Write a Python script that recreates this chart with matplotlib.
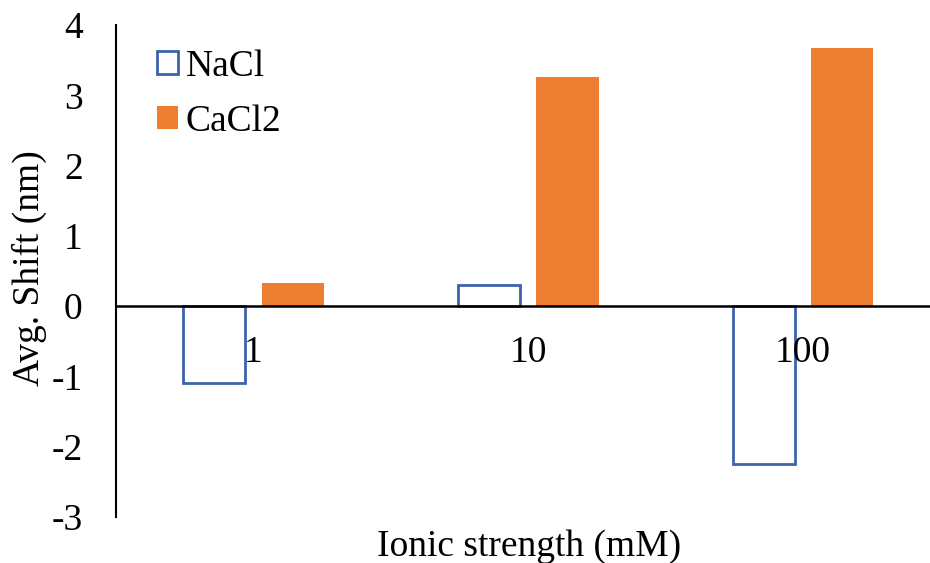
import matplotlib
matplotlib.use('Agg')
import matplotlib.pyplot as plt
import numpy as np

plt.rcParams['font.family'] = ['Liberation Serif', 'DejaVu Serif']
plt.rcParams['axes.unicode_minus'] = False

categories = ['1', '10', '100']
nacl = [-1.10, 0.30, -2.25]
cacl2 = [0.33, 3.26, 3.67]

W, H = 930, 563
FS = 27
fig = plt.figure(figsize=(W / 100, H / 100), dpi=100)
ax = fig.add_axes([116 / W, 46 / H, 814 / W, 492 / H])

x = np.arange(len(categories))
bw = 0.226
off = 0.143

ax.bar(x - off, nacl, bw, facecolor='white', edgecolor='#3d63ad', linewidth=2, label='NaCl')
ax.bar(x + off, cacl2, bw, color='#ED7D31', label='CaCl2')

ax.set_xlim(-0.5, 2.462)
ax.set_ylim(-3, 4)
ax.set_yticks(range(-3, 5))

for s in ['top', 'right']:
    ax.spines[s].set_visible(False)
ax.spines['bottom'].set_position(('data', 0))
ax.spines['bottom'].set_linewidth(1.8)
ax.spines['left'].set_linewidth(1.5)

ax.set_xticks(x)
ax.set_xticklabels(categories)
ax.tick_params(axis='x', length=0, pad=21, labelsize=FS)
ax.tick_params(axis='y', length=0, pad=24, labelsize=FS)

fig.text(29 / W, 1 - 268 / H, 'Avg. Shift (nm)', rotation=90, ha='center', va='center', fontsize=FS)
fig.text(529 / W, 1 - 547 / H, 'Ionic strength (mM)', ha='center', va='center', fontsize=FS)

ax.legend(loc='upper left', bbox_to_anchor=(157 / W, 1 - 49 / H), bbox_transform=fig.transFigure,
          frameon=False, fontsize=FS, handlelength=0.56, handleheight=0.56, handletextpad=0.2,
          labelspacing=0.55, borderaxespad=0, borderpad=0)

fig.savefig('out.png', dpi=100)
